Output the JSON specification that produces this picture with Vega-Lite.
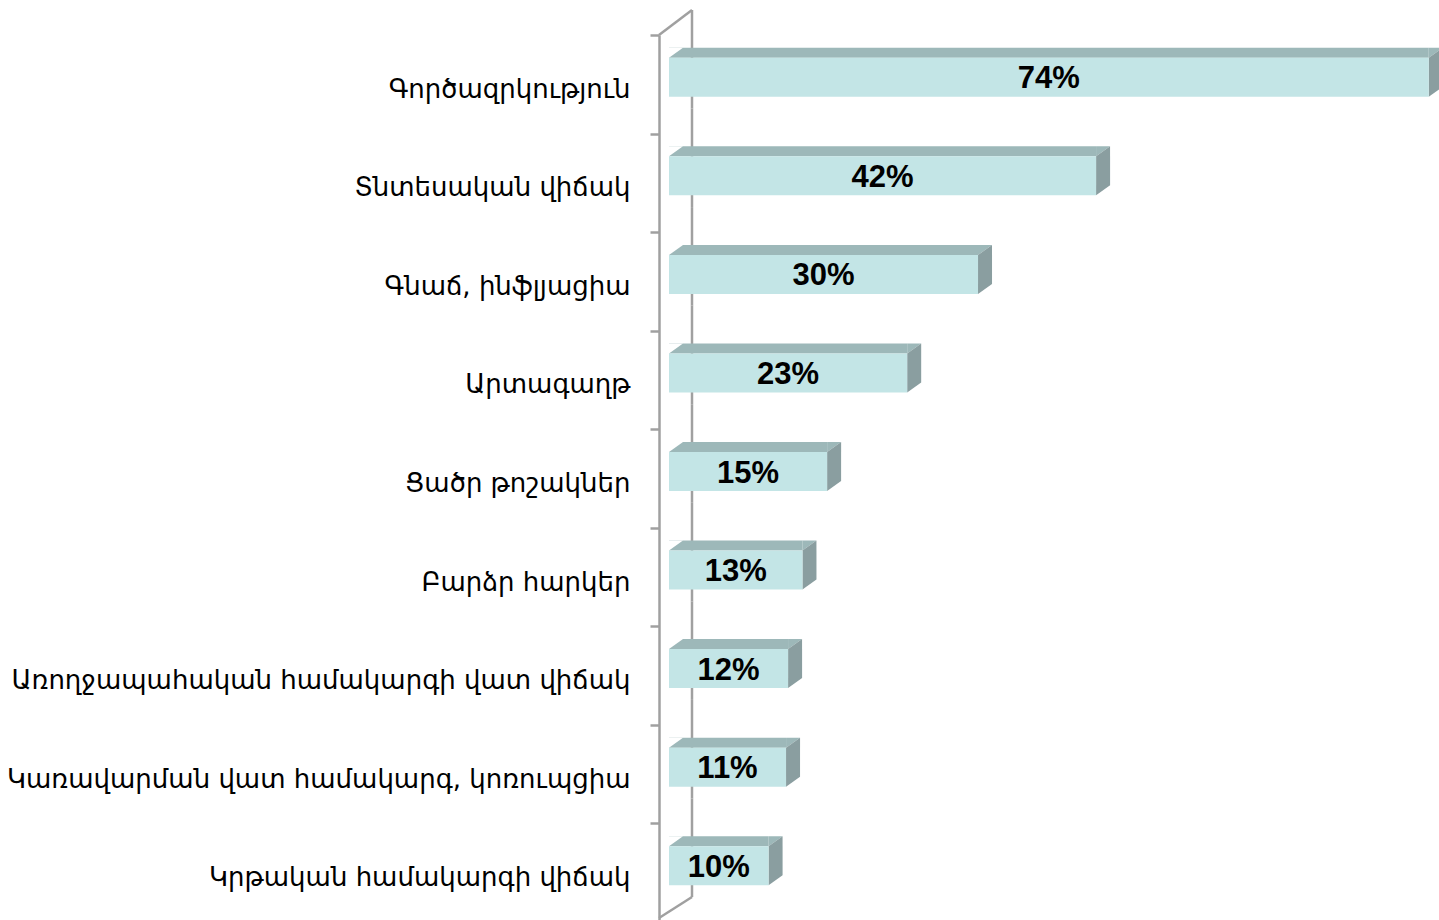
{
  "$schema": "https://vega.github.io/schema/vega-lite/v6.json",
  "autosize": {"type": "none"},
  "width": 770,
  "height": 887,
  "padding": {"left": 669, "top": 35, "right": 0, "bottom": 0},
  "background": "white",
  "config": {
    "view": {"stroke": null},
    "axisY": {
      "title": null, "offset": 10, "tickBand": "extent", "tickSize": 9,
      "tickColor": "#A0A0A0", "tickWidth": 2.5, "domainColor": "#A0A0A0", "domainWidth": 2.5,
      "labelPadding": 20, "labelFont": "DejaVu Sans", "labelFontSize": 26, "labelOffset": 5,
      "labelColor": "#000000", "labelLimit": 0, "grid": false
    }
  },
  "data": {
    "values": [
      {"cat": "Գործազրկություն", "value": 74.0, "label": "74%"},
      {"cat": "Տնտեսական վիճակ", "value": 41.6, "label": "42%"},
      {"cat": "Գնաճ, ինֆլյացիա", "value": 30.1, "label": "30%"},
      {"cat": "Արտագաղթ", "value": 23.2, "label": "23%"},
      {"cat": "Ցածր թոշակներ", "value": 15.4, "label": "15%"},
      {"cat": "Բարձր հարկեր", "value": 13.0, "label": "13%"},
      {"cat": "Առողջապահական համակարգի վատ վիճակ", "value": 11.6, "label": "12%"},
      {"cat": "Կառավարման վատ համակարգ, կոռուպցիա", "value": 11.4, "label": "11%"},
      {"cat": "Կրթական համակարգի վիճակ", "value": 9.7, "label": "10%"}
    ]
  },
  "encoding": {
    "y": {
      "field": "cat", "type": "nominal", "sort": null, "title": null,
      "scale": {"type": "band", "paddingInner": 0, "paddingOuter": 0}
    }
  },
  "resolve": {"scale": {"x": "independent"}},
  "layer": [
    {
      "mark": {"type": "rule", "color": "#A0A0A0", "strokeWidth": 2.5, "xOffset": 23, "yOffset": -25, "y2Offset": -25},
      "encoding": {
        "x": {"datum": 0, "type": "quantitative", "scale": {"domain": [0, 75], "nice": false}, "axis": null},
        "y": {"field": "cat", "type": "nominal", "sort": null, "title": null, "bandPosition": 0, "scale": {"type": "band", "paddingInner": 0, "paddingOuter": 0}},
        "y2": {"field": "cat", "bandPosition": 1}
      }
    },
    {
      "transform": [{"filter": {"field": "cat", "equal": "Գործազրկություն"}}],
      "mark": {"type": "rule", "color": "#A0A0A0", "strokeWidth": 2.5, "xOffset": -10, "x2Offset": 23, "y2Offset": -25},
      "encoding": {
        "x": {"datum": 0, "type": "quantitative", "scale": {"domain": [0, 75], "nice": false}, "axis": null},
        "x2": {"datum": 0},
        "y": {"field": "cat", "type": "nominal", "sort": null, "title": null, "bandPosition": 0, "scale": {"type": "band", "paddingInner": 0, "paddingOuter": 0}},
        "y2": {"field": "cat", "bandPosition": 0}
      }
    },
    {
      "transform": [{"filter": {"field": "cat", "equal": "Կրթական համակարգի վիճակ"}}],
      "mark": {"type": "rule", "color": "#A0A0A0", "strokeWidth": 2.5, "xOffset": -10, "x2Offset": 23, "yOffset": -4, "y2Offset": -25},
      "encoding": {
        "x": {"datum": 0, "type": "quantitative", "scale": {"domain": [0, 75], "nice": false}, "axis": null},
        "x2": {"datum": 0},
        "y": {"field": "cat", "type": "nominal", "sort": null, "title": null, "bandPosition": 1, "scale": {"type": "band", "paddingInner": 0, "paddingOuter": 0}},
        "y2": {"field": "cat", "bandPosition": 1}
      }
    },
    {
      "mark": {"type": "bar", "height": 10, "yOffset": -31.5, "color": "#9DB8B9"},
      "encoding": {
        "x": {"field": "value", "type": "quantitative", "scale": {"domain": [0, 75], "nice": false}, "axis": null}
      }
    },
    {
      "mark": {"type": "point", "shape": "M0,-19.5L0,-29.5L14,-29.5Z", "size": 4, "filled": true, "opacity": 1, "strokeWidth": 0, "color": "#FFFFFF", "yOffset": -7},
      "encoding": {
        "x": {"datum": 0, "type": "quantitative", "scale": {"domain": [0, 75], "nice": false}, "axis": null}
      }
    },
    {
      "mark": {"type": "point", "shape": "M0,-19.5L0,-29.5L14,-29.5Z", "size": 4, "filled": true, "opacity": 1, "strokeWidth": 0, "color": "#9DB8B9", "yOffset": -7},
      "encoding": {
        "x": {"field": "value", "type": "quantitative", "scale": {"domain": [0, 75], "nice": false}, "axis": null}
      }
    },
    {
      "mark": {"type": "point", "shape": "M0,-19.5L14,-29.5L14,9.5L0,19.5Z", "size": 4, "filled": true, "opacity": 1, "strokeWidth": 0, "color": "#8A9EA0", "yOffset": -7},
      "encoding": {
        "x": {"field": "value", "type": "quantitative", "scale": {"domain": [0, 75], "nice": false}, "axis": null}
      }
    },
    {
      "mark": {"type": "bar", "height": 39, "yOffset": -7, "color": "#C3E5E6"},
      "encoding": {
        "x": {"field": "value", "type": "quantitative", "scale": {"domain": [0, 75], "nice": false}, "axis": null}
      }
    },
    {
      "mark": {"type": "text", "font": "Liberation Sans", "fontWeight": "bold", "fontSize": 31, "color": "#000000", "align": "center", "baseline": "middle", "yOffset": -5},
      "encoding": {
        "x": {"field": "value", "type": "quantitative", "scale": {"domain": [0, 150], "nice": false}, "axis": null},
        "text": {"field": "label"}
      }
    }
  ]
}
